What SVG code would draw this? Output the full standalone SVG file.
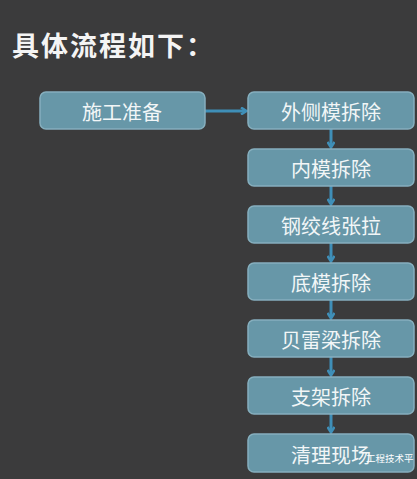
<svg xmlns="http://www.w3.org/2000/svg" width="417" height="479" viewBox="0 0 417 479">
<defs>
<style>
.box{fill:#6797a8;stroke:#86afbe;stroke-width:1.5}
.lbl{font-family:"Noto Sans CJK SC","Noto Sans",sans-serif;font-size:20px;fill:#f2f6f7;text-anchor:middle;dominant-baseline:central}
.con{stroke:#3f8fb8;stroke-width:3;fill:none;marker-end:url(#ah)}
</style>
<marker id="ah" markerWidth="8" markerHeight="8" refX="6" refY="4" orient="auto" markerUnits="userSpaceOnUse"><path d="M1,0.5 L6.5,4 L1,7.5" fill="none" stroke="#3f8fb8" stroke-width="2.5"/></marker>
</defs>
<rect width="417" height="479" fill="#3b3b3c"/>
<text x="12" y="56" font-family="Noto Sans CJK SC,sans-serif" font-size="27" font-weight="bold" letter-spacing="2" fill="#f4f4f4">具体流程如下：</text>
<g id="connectors">
<line class="con" x1="205" y1="111" x2="246" y2="111"/>
<line class="con" x1="331" y1="129" x2="331" y2="147"/>
<line class="con" x1="331" y1="186" x2="331" y2="204"/>
<line class="con" x1="331" y1="243" x2="331" y2="261"/>
<line class="con" x1="331" y1="300" x2="331" y2="318"/>
<line class="con" x1="331" y1="357" x2="331" y2="375"/>
<line class="con" x1="331" y1="414" x2="331" y2="432"/>
</g>
<g id="n1"><rect class="box" x="40" y="92" width="165" height="37" rx="6"/><text class="lbl" x="122" y="111">施工准备</text></g>
<g id="n2"><rect class="box" x="248" y="92" width="166" height="37" rx="6"/><text class="lbl" x="331" y="111">外侧模拆除</text></g>
<g id="n3"><rect class="box" x="248" y="149" width="166" height="37" rx="6"/><text class="lbl" x="331" y="168">内模拆除</text></g>
<g id="n4"><rect class="box" x="248" y="206" width="166" height="37" rx="6"/><text class="lbl" x="331" y="225">钢绞线张拉</text></g>
<g id="n5"><rect class="box" x="248" y="263" width="166" height="37" rx="6"/><text class="lbl" x="331" y="282">底模拆除</text></g>
<g id="n6"><rect class="box" x="248" y="320" width="166" height="37" rx="6"/><text class="lbl" x="331" y="339">贝雷梁拆除</text></g>
<g id="n7"><rect class="box" x="248" y="377" width="166" height="37" rx="6"/><text class="lbl" x="331" y="396">支架拆除</text></g>
<g id="n8"><rect class="box" x="248" y="434" width="166" height="38" rx="6"/><text class="lbl" x="331" y="454">清理现场</text></g>
<text x="366" y="462" font-family="Noto Sans CJK SC,sans-serif" font-size="9.5" fill="#ffffff">工程技术平</text>
</svg>
